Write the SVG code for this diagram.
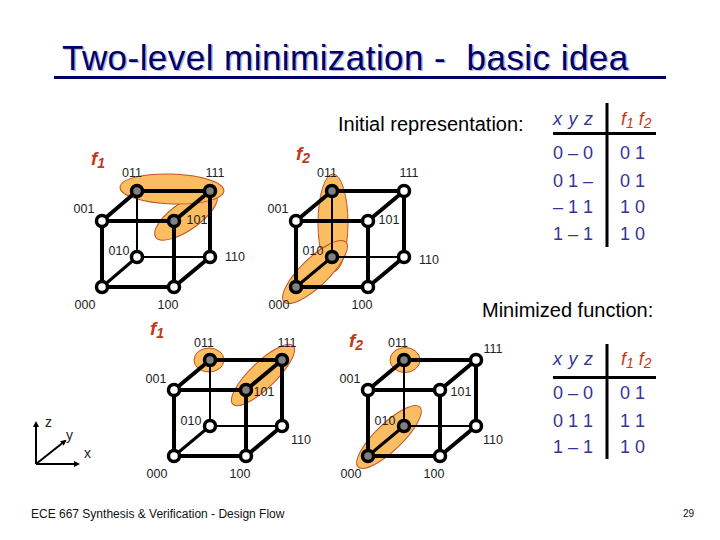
<svg xmlns="http://www.w3.org/2000/svg" width="720" height="540" viewBox="0 0 720 540">
<style>
text{font-family:"Liberation Sans",Arial,sans-serif;white-space:pre}
.l{font-size:12.500px;fill:#222;text-anchor:middle}
.h{font-size:20px;fill:#000}
.t{font-size:18px;fill:#333399}
.ti{font-size:18px;fill:#333399;font-style:italic;word-spacing:1.500px}
.fr{font-size:18px;fill:#c0391b;font-style:italic}
.f{font-size:19px;fill:#c0391b;font-style:italic;font-weight:bold}
.sub{font-size:14px;font-weight:normal}
.fb .sub{font-weight:bold}
.e{fill:#fbbd62;stroke:#c8521e;stroke-width:1}
.k{stroke:#000;stroke-width:4;fill:none;stroke-linecap:round}
.n{stroke:#000;stroke-width:2;fill:none}
.m{stroke:#000;stroke-width:3;fill:none;stroke-linecap:round}
.w{fill:#fff;stroke:#000;stroke-width:3.500}
.g{fill:#808080;stroke:#000;stroke-width:3.500}
.r{stroke:#000;stroke-width:3;fill:none}
.a{font-size:14px;fill:#222}
.x{stroke:#000;stroke-width:2;fill:none;marker-end:url(#ah)}
</style>
<defs>
<marker id="ah" markerWidth="6" markerHeight="6" refX="4" refY="3" orient="auto" markerUnits="userSpaceOnUse"><path d="M0 0L6 3L0 6z" fill="#000"/></marker>
</defs>

<g id="title">
<text x="63.500" y="71" font-size="35" letter-spacing="0.450" fill="#b8b8d4" xml:space="preserve">Two-level minimization -  basic idea</text>
<text x="62" y="69.500" font-size="35" letter-spacing="0.450" fill="#000066" xml:space="preserve">Two-level minimization -  basic idea</text>
<path d="M54 77.500H666" stroke="#000066" stroke-width="3"/>
</g>
<text class="h" x="338" y="131">Initial representation:</text>
<text class="h" x="482" y="317">Minimized function:</text>

<g id="blobs">
<ellipse class="e" cx="186" cy="216" rx="37" ry="14" transform="rotate(-35 186 216)"/>
<ellipse class="e" cx="172" cy="189" rx="52" ry="15" transform="rotate(2 172 189)"/>
<ellipse class="e" cx="333" cy="223" rx="15" ry="49"/>
<ellipse class="e" cx="315" cy="272" rx="43" ry="14" transform="rotate(-44 315 272)"/>
<ellipse class="e" cx="209" cy="360" rx="15" ry="12"/>
<ellipse class="e" cx="263" cy="375" rx="42" ry="13" transform="rotate(-44 263 375)"/>
<ellipse class="e" cx="405" cy="360" rx="15" ry="12.500"/>
<ellipse class="e" cx="389" cy="437" rx="43" ry="13.500" transform="rotate(-44 389 437)"/>
</g>

<g id="connectors">
<path class="k" d="M137 191H210M137 191L102 221M210 191L174 221M102 221H174M102 221V287M174 221V287M102 287H174M174 287L210 257M210 191V257"/>
<path class="n" d="M137 191V257M137 257H210"/><path class="m" d="M102 287L137 257"/>
<path class="k" d="M332 191H404M332 191L296 221M404 191L368 221M296 221H368M296 221V287M368 221V287M296 287H368M368 287L404 257M404 191V257"/>
<path class="n" d="M332 191V257M332 257H404"/><path class="m" d="M296 287L332 257"/>
<path class="k" d="M210 360H282M210 360L174 390M282 360L246 390M174 390H246M174 390V456M246 390V456M174 456H246M246 456L282 426M282 360V426"/>
<path class="n" d="M210 360V426M210 426H282"/><path class="m" d="M174 456L210 426"/>
<path class="k" d="M404 360H476M404 360L368 390M476 360L440 390M368 390H440M368 390V456M440 390V456M368 456H440M440 456L476 426M476 360V426"/>
<path class="n" d="M404 360V426M404 426H476"/><path class="m" d="M368 456L404 426"/>
<path class="x" d="M36 464V423"/>
<path class="x" d="M36 464L65 441"/>
<path class="x" d="M36 464H78"/>
</g>

<g id="cube1">
<g id="c1-011"><circle class="g" cx="137" cy="191" r="5.500"/><text class="l" x="132" y="177">011</text></g>
<g id="c1-111"><circle class="g" cx="210" cy="191" r="5.500"/><text class="l" x="215" y="177">111</text></g>
<g id="c1-001"><circle class="w" cx="102" cy="221" r="5.500"/><text class="l" x="84" y="213">001</text></g>
<g id="c1-101"><circle class="g" cx="174" cy="221" r="5.500"/><text class="l" x="197" y="224">101</text></g>
<g id="c1-010"><circle class="w" cx="137" cy="257" r="5.500"/><text class="l" x="119" y="255">010</text></g>
<g id="c1-110"><circle class="w" cx="210" cy="257" r="5.500"/><text class="l" x="235" y="261">110</text></g>
<g id="c1-000"><circle class="w" cx="102" cy="287" r="5.500"/><text class="l" x="85" y="309">000</text></g>
<g id="c1-100"><circle class="w" cx="174" cy="287" r="5.500"/><text class="l" x="168" y="309">100</text></g>
</g>
<g id="cube2">
<g id="c2-011"><circle class="g" cx="332" cy="191" r="5.500"/><text class="l" x="327" y="177">011</text></g>
<g id="c2-111"><circle class="w" cx="404" cy="191" r="5.500"/><text class="l" x="409" y="177">111</text></g>
<g id="c2-001"><circle class="w" cx="296" cy="221" r="5.500"/><text class="l" x="278" y="213">001</text></g>
<g id="c2-101"><circle class="w" cx="368" cy="221" r="5.500"/><text class="l" x="389" y="224">101</text></g>
<g id="c2-010"><circle class="g" cx="332" cy="257" r="5.500"/><text class="l" x="313" y="255">010</text></g>
<g id="c2-110"><circle class="w" cx="404" cy="257" r="5.500"/><text class="l" x="429" y="264">110</text></g>
<g id="c2-000"><circle class="g" cx="296" cy="287" r="5.500"/><text class="l" x="279" y="309">000</text></g>
<g id="c2-100"><circle class="w" cx="368" cy="287" r="5.500"/><text class="l" x="362" y="309">100</text></g>
</g>
<g id="cube3">
<g id="c3-011"><circle class="g" cx="210" cy="360" r="5.500"/><text class="l" x="204" y="347">011</text></g>
<g id="c3-111"><circle class="g" cx="282" cy="360" r="5.500"/><text class="l" x="287" y="347">111</text></g>
<g id="c3-001"><circle class="w" cx="174" cy="390" r="5.500"/><text class="l" x="156" y="383">001</text></g>
<g id="c3-101"><circle class="g" cx="246" cy="390" r="5.500"/><text class="l" x="264" y="396">101</text></g>
<g id="c3-010"><circle class="w" cx="210" cy="426" r="5.500"/><text class="l" x="191" y="425">010</text></g>
<g id="c3-110"><circle class="w" cx="282" cy="426" r="5.500"/><text class="l" x="301" y="444">110</text></g>
<g id="c3-000"><circle class="w" cx="174" cy="456" r="5.500"/><text class="l" x="157" y="478">000</text></g>
<g id="c3-100"><circle class="w" cx="246" cy="456" r="5.500"/><text class="l" x="240" y="478">100</text></g>
</g>
<g id="cube4">
<g id="c4-011"><circle class="g" cx="404" cy="360" r="5.500"/><text class="l" x="398" y="347">011</text></g>
<g id="c4-111"><circle class="w" cx="476" cy="360" r="5.500"/><text class="l" x="493" y="353">111</text></g>
<g id="c4-001"><circle class="w" cx="368" cy="390" r="5.500"/><text class="l" x="350" y="383">001</text></g>
<g id="c4-101"><circle class="w" cx="440" cy="390" r="5.500"/><text class="l" x="461" y="396">101</text></g>
<g id="c4-010"><circle class="g" cx="404" cy="426" r="5.500"/><text class="l" x="385" y="425">010</text></g>
<g id="c4-110"><circle class="w" cx="476" cy="426" r="5.500"/><text class="l" x="493" y="444">110</text></g>
<g id="c4-000"><circle class="g" cx="368" cy="456" r="5.500"/><text class="l" x="351" y="478">000</text></g>
<g id="c4-100"><circle class="w" cx="440" cy="456" r="5.500"/><text class="l" x="434" y="478">100</text></g>
</g>

<g id="flabels">
<text class="f fb" x="91" y="165">f<tspan class="sub" dy="3">1</tspan></text>
<text class="f fb" x="296" y="160">f<tspan class="sub" dy="3">2</tspan></text>
<text class="f fb" x="150" y="335">f<tspan class="sub" dy="3">1</tspan></text>
<text class="f fb" x="349" y="347">f<tspan class="sub" dy="3">2</tspan></text>
</g>

<g id="axes">
<text class="a" x="45" y="427">z</text>
<text class="a" x="66" y="440">y</text>
<text class="a" x="84" y="458">x</text>
</g>

<g id="table1">
<path class="r" d="M607 103V247M553 133.500H656"/>
<text class="ti" x="553" y="125">x y z</text>
<text class="fr" x="621" y="125">f<tspan class="sub" dy="3">1</tspan><tspan dy="-3"> f</tspan><tspan class="sub" dy="3">2</tspan></text>
<text class="t" x="553" y="159">0 – 0</text><text class="t" x="620" y="159">0 1</text>
<text class="t" x="553" y="187">0 1 –</text><text class="t" x="620" y="187">0 1</text>
<text class="t" x="553" y="213">– 1 1</text><text class="t" x="620" y="213">1 0</text>
<text class="t" x="553" y="240">1 – 1</text><text class="t" x="620" y="240">1 0</text>
</g>
<g id="table2">
<path class="r" d="M607 344V459M553 377.500H656"/>
<text class="ti" x="553" y="365">x y z</text>
<text class="fr" x="621" y="365">f<tspan class="sub" dy="3">1</tspan><tspan dy="-3"> f</tspan><tspan class="sub" dy="3">2</tspan></text>
<text class="t" x="553" y="399">0 – 0</text><text class="t" x="620" y="399">0 1</text>
<text class="t" x="553" y="427">0 1 1</text><text class="t" x="620" y="427">1 1</text>
<text class="t" x="553" y="453">1 – 1</text><text class="t" x="620" y="453">1 0</text>
</g>

<text x="31" y="518" font-size="12" fill="#111">ECE 667 Synthesis &amp; Verification - Design Flow</text>
<text x="683" y="517" font-size="10" fill="#111">29</text>
</svg>
